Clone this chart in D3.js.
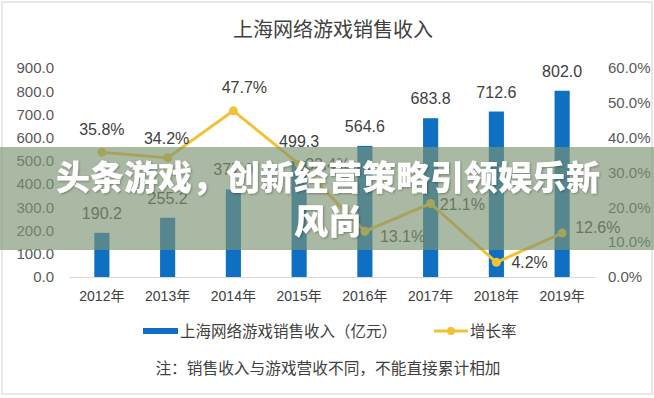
<!DOCTYPE html>
<html>
<head>
<meta charset="utf-8">
<script src="https://cdn.jsdelivr.net/npm/d3@7"></script>
<style>
  body { margin: 0; background: #fff; }
  svg { display: block; }
  text { font-family: "Liberation Sans", "Noto Sans CJK SC", sans-serif; }
</style>
</head>
<body>
<div id="chart"></div>
<script>
const years = ["2012年", "2013年", "2014年", "2015年", "2016年", "2017年", "2018年", "2019年"];
const revenue = [190.2, 255.2, 377.0, 499.3, 564.6, 683.8, 712.6, 802.0];
const growth = [35.8, 34.2, 47.7, 32.4, 13.1, 21.1, 4.2, 12.6];
const leftTicks = [0, 100, 200, 300, 400, 500, 600, 700, 800, 900];
const rightTicks = [0, 10, 20, 30, 40, 50, 60];
const title = "上海网络游戏销售收入";
const seriesNames = ["上海网络游戏销售收入（亿元）", "增长率"];
const note = "注：销售收入与游戏营收不同，不能直接累计相加";
const banner = ["头条游戏，创新经营策略引领娱乐新", "风尚"];

// where each growth label sits relative to its point: [anchor, dx, dy]
const growthLabelPos = [
  ["middle", 0, -17], ["middle", -1, -14], ["middle", 11, -18], ["start", 6, 6],
  ["start", 15, 11], ["start", 9, 6], ["start", 15, 6], ["start", 13, 0]
];

const blue = "#0f70c3", gold = "#f2c232", textCol = "#404040", axisCol = "#595959";
const W = 654, H = 398;

const svg = d3.select("#chart").append("svg")
  .attr("width", W).attr("height", H);

svg.append("rect")
  .attr("x", 2).attr("y", 2).attr("width", W - 4).attr("height", H - 6)
  .attr("fill", "#fff").attr("stroke", "#d9d9d9").attr("stroke-width", 1.2);

svg.append("text")
  .attr("x", 333).attr("y", 37)
  .attr("text-anchor", "middle")
  .attr("font-size", 20).attr("fill", textCol)
  .style("font-family", "'Noto Sans CJK SC', sans-serif")
  .text(title);

let x = d3.scaleBand()
  .domain(years)
  .range([69, 595])
  .paddingInner(0.77)
  .paddingOuter(0.385);

let y = d3.scaleLinear().domain([0, 900]).range([277, 68]);
let y2 = d3.scaleLinear().domain([0, 60]).range([277, 68]);

// left axis
let gl = svg.append("g")
  .attr("transform", "translate(54,0)")
  .call(d3.axisLeft(y).tickValues(leftTicks).tickFormat(d3.format(".1f")).tickSize(0).tickPadding(0));
gl.select(".domain").remove();
gl.selectAll("text").attr("font-size", 15).attr("fill", axisCol)
  .style("font-family", "'Liberation Sans', sans-serif");

// right axis
let gr = svg.append("g")
  .attr("transform", "translate(608,0)")
  .call(d3.axisRight(y2).tickValues(rightTicks).tickFormat(d => d3.format(".1f")(d) + "%").tickSize(0).tickPadding(0));
gr.select(".domain").remove();
gr.selectAll("text").attr("font-size", 15).attr("fill", axisCol)
  .style("font-family", "'Liberation Sans', sans-serif");

// bars
svg.selectAll(".bar")
  .data(revenue)
  .enter().append("rect")
  .attr("class", "bar")
  .attr("x", (d, i) => x(years[i]))
  .attr("width", x.bandwidth())
  .attr("y", d => y(d))
  .attr("height", d => y(0) - y(d))
  .attr("fill", blue);

// x axis
let gx = svg.append("g")
  .attr("transform", "translate(0,277)")
  .call(d3.axisBottom(x).tickSize(0).tickPadding(14).tickSizeOuter(0));
gx.select(".domain").attr("stroke", "#d9d9d9").attr("stroke-width", 1.2);
gx.selectAll("text").attr("font-size", 14).attr("fill", textCol);

// bar labels
svg.selectAll(".barLabel")
  .data(revenue)
  .enter().append("text")
  .attr("class", "barLabel")
  .attr("x", (d, i) => x(years[i]) + x.bandwidth() / 2)
  .attr("y", d => y(d) - 14)
  .attr("text-anchor", "middle")
  .attr("font-size", 16).attr("fill", textCol)
  .text(d => d3.format(".1f")(d));

// growth line
const cx = i => x(years[i]) + x.bandwidth() / 2;
let line = d3.line()
  .x((d, i) => cx(i))
  .y(d => y2(d));

svg.append("path")
  .datum(growth)
  .attr("d", line)
  .attr("fill", "none")
  .attr("stroke", gold)
  .attr("stroke-width", 3)
  .attr("stroke-linejoin", "round");

svg.selectAll(".dot")
  .data(growth)
  .enter().append("circle")
  .attr("class", "dot")
  .attr("cx", (d, i) => cx(i))
  .attr("cy", d => y2(d))
  .attr("r", 4.5)
  .attr("fill", gold);

svg.selectAll(".growthLabel")
  .data(growth)
  .enter().append("text")
  .attr("class", "growthLabel")
  .attr("x", (d, i) => cx(i) + growthLabelPos[i][1])
  .attr("y", (d, i) => y2(d) + growthLabelPos[i][2])
  .attr("text-anchor", (d, i) => growthLabelPos[i][0])
  .attr("font-size", 16).attr("fill", textCol)
  .text(d => d3.format(".1f")(d) + "%");

// legend
let lg = svg.append("g").attr("transform", "translate(0,331)");
lg.append("rect").attr("x", 143).attr("y", -3).attr("width", 35).attr("height", 6).attr("fill", blue);
lg.append("text").attr("x", 180).attr("y", 5.5)
  .attr("font-size", 15.5).attr("fill", textCol)
  .style("font-family", "'Noto Sans CJK SC', sans-serif")
  .text(seriesNames[0]);
lg.append("line").attr("x1", 434).attr("x2", 468).attr("y1", 0).attr("y2", 0)
  .attr("stroke", gold).attr("stroke-width", 3);
lg.append("circle").attr("cx", 451).attr("cy", 0).attr("r", 4).attr("fill", gold);
lg.append("text").attr("x", 470).attr("y", 5.5)
  .attr("font-size", 15.5).attr("fill", textCol)
  .style("font-family", "'Noto Sans CJK SC', sans-serif")
  .text(seriesNames[1]);

svg.append("text")
  .attr("x", 328).attr("y", 374)
  .attr("text-anchor", "middle")
  .attr("font-size", 15.7).attr("fill", textCol)
  .style("font-family", "'Noto Sans CJK SC', sans-serif")
  .text(note);

// overlay banner across the middle
svg.append("rect")
  .attr("x", 0).attr("y", 147).attr("width", W).attr("height", 103)
  .attr("fill", "rgb(125,148,114)").attr("fill-opacity", 0.65);

let defs = svg.append("defs");
let f = defs.append("filter").attr("id", "shadow").attr("x", "-10%").attr("y", "-20%").attr("width", "120%").attr("height", "140%");
f.append("feDropShadow").attr("dx", 1).attr("dy", 1).attr("stdDeviation", 1)
  .attr("flood-color", "#000").attr("flood-opacity", 0.3);

svg.selectAll(".banner")
  .data(banner)
  .enter().append("text")
  .attr("class", "banner")
  .attr("x", 328)
  .attr("y", (d, i) => 190 + i * 44)
  .attr("text-anchor", "middle")
  .attr("font-size", 34).attr("font-weight", 900).attr("fill", "#fff")
  .attr("filter", "url(#shadow)")
  .style("font-family", "'Noto Sans CJK SC', sans-serif")
  .text(d => d);
</script>
</body>
</html>
